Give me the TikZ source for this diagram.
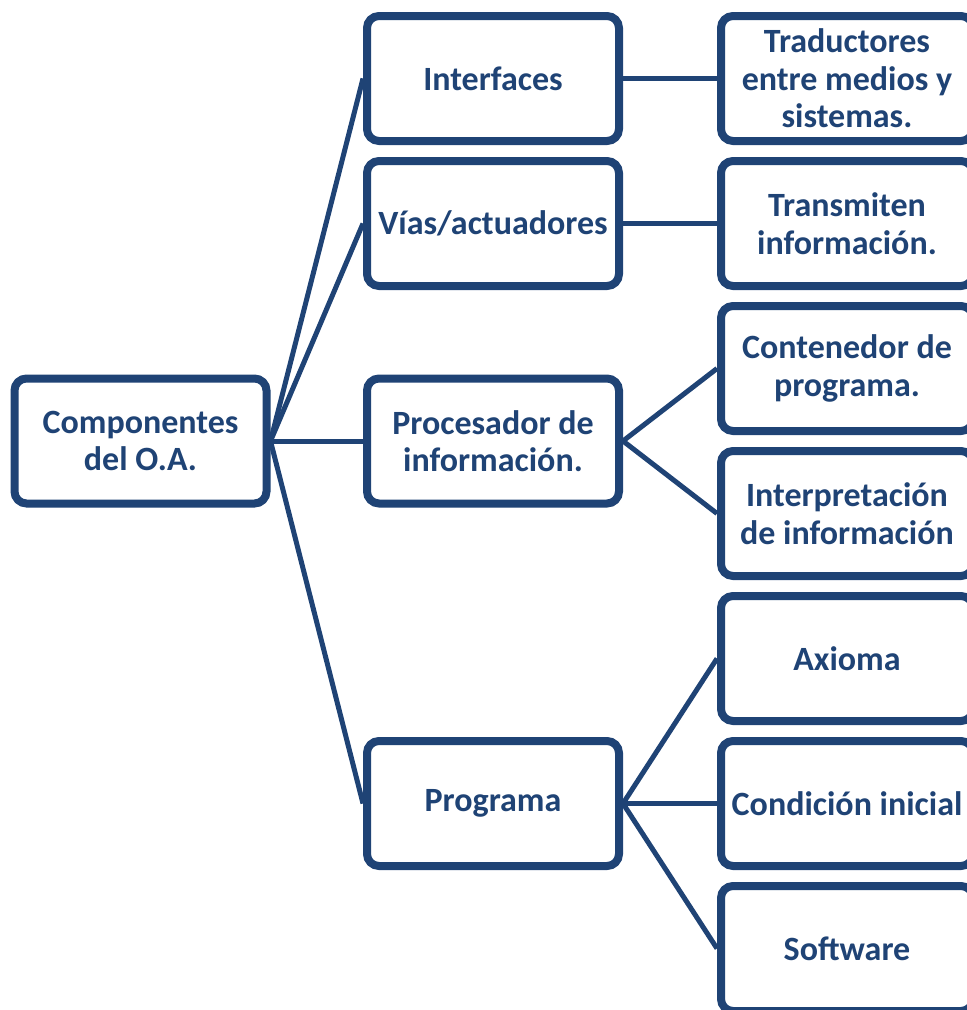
\documentclass[tikz,border=0pt]{standalone}
\usepackage{fontspec}
\setmainfont{Carlito}
\usetikzlibrary{shadows}
\definecolor{navy}{RGB}{31,67,117}
\begin{document}
\begin{tikzpicture}[x=1pt,y=-1pt,
  box/.style={draw=navy, line width=8pt, rounded corners=12pt, fill=white,
    minimum width=252pt, minimum height=125pt, inner sep=0pt,
    align=center, text=navy, font=\fontsize{34}{37.5}\selectfont\bfseries,
    drop shadow={shadow xshift=2pt, shadow yshift=-3.5pt, opacity=0.22, fill=black}},
  link/.style={draw=navy, line width=5pt}]
\useasboundingbox (0,0) rectangle (967,1010);

% root
\node[box] (root) at (140.5,441) {Componentes\\del O.A.};

% first level
\node[box] (int)  at (493,78.5)  {Interfaces};
\node[box] (vias) at (493,223.5) {Vías/actuadores};
\node[box] (proc) at (493,441)   {Procesador de\\información.};
\node[box] (prog) at (493,803.5) {Programa};

% second level
\node[box] (trad) at (847,78.5)  {Traductores\\entre medios y\\sistemas.};
\node[box] (tran) at (847,223.5) {Transmiten\\información.};
\node[box] (cont) at (847,368.5) {Contenedor de\\programa.};
\node[box] (intp) at (847,513.5) {Interpretación\\de información};
\node[box] (axi)  at (847,658.5) {Axioma};
\node[box] (cond) at (847,803.5) {Condición inicial};
\node[box] (soft) at (847,948.5) {Software};

% connectors
\foreach \t in {int,vias,proc,prog}
  \draw[link] (root.east) -- (\t.west);
\draw[link] (int.east) -- (trad.west);
\draw[link] (vias.east) -- (tran.west);
\foreach \t in {cont,intp}
  \draw[link] (proc.east) -- (\t.west);
\foreach \t in {axi,cond,soft}
  \draw[link] (prog.east) -- (\t.west);
\end{tikzpicture}
\end{document}
